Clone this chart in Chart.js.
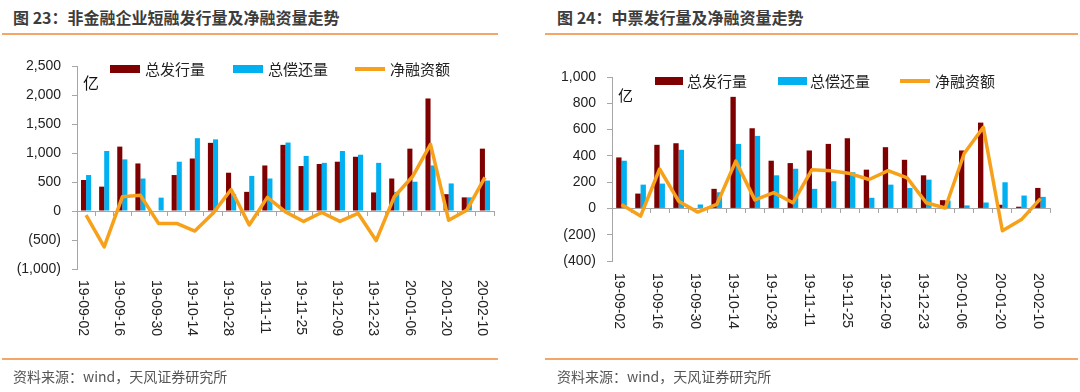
<!DOCTYPE html>
<html>
<head>
<meta charset="utf-8">
<script src="https://cdn.jsdelivr.net/npm/chart.js@4.4.0/dist/chart.umd.min.js"></script>
<style>
  body { margin: 0; background: #fff; width: 1080px; height: 392px; overflow: hidden; position: relative; font-family: "Noto Sans CJK SC", sans-serif; }
  .title { position: absolute; top: 9px; font-size: 16px; line-height: 17px; font-weight: bold; color: #3c3c3c; white-space: nowrap; }
  .rule { position: absolute; height: 2px; background: #f3a666; }
  .src { position: absolute; top: 369px; font-size: 14px; line-height: 15px; color: #555; white-space: nowrap; }
  canvas { position: absolute; top: 0; }
  .unit { position: absolute; color: #111; line-height: 1; }
  .sw { position: absolute; }
  .lt { position: absolute; font-size: 15px; line-height: 15px; color: #222; white-space: nowrap; }
</style>
</head>
<body>
<div class="title" style="left:13px">图 23：非金融企业短融发行量及净融资量走势</div>
<div class="rule" style="left:2px;width:496px;top:33px"></div>
<div class="title" style="left:557px">图 24：中票发行量及净融资量走势</div>
<div class="rule" style="left:545px;width:533px;top:33px"></div>

<canvas id="c1" width="540" height="392" style="left:0"></canvas>
<canvas id="c2" width="540" height="392" style="left:540px"></canvas>

<div class="unit" style="left:83px;top:74px;font-size:16px">亿</div>
<div class="unit" style="left:618px;top:87px;font-size:15px">亿</div>

<!-- legend, left -->
<div class="sw" style="left:110px;top:65px;width:30px;height:8px;background:#7f0000"></div>
<div class="lt" style="left:145px;top:61px">总发行量</div>
<div class="sw" style="left:233px;top:65px;width:30px;height:8px;background:#00b0f0"></div>
<div class="lt" style="left:268px;top:61px">总偿还量</div>
<div class="sw" style="left:355px;top:67px;width:30px;height:4px;background:#f7a11a"></div>
<div class="lt" style="left:390px;top:61px">净融资额</div>

<!-- legend, right -->
<div class="sw" style="left:655px;top:77px;width:28px;height:8px;background:#7f0000"></div>
<div class="lt" style="left:687px;top:73px">总发行量</div>
<div class="sw" style="left:778px;top:77px;width:29px;height:8px;background:#00b0f0"></div>
<div class="lt" style="left:810px;top:73px">总偿还量</div>
<div class="sw" style="left:900px;top:79px;width:30px;height:4px;background:#f7a11a"></div>
<div class="lt" style="left:935px;top:73px">净融资额</div>

<div class="rule" style="left:2px;width:496px;top:358px"></div>
<div class="src" style="left:13px">资料来源：wind，天风证券研究所</div>
<div class="rule" style="left:545px;width:533px;top:358px"></div>
<div class="src" style="left:557px">资料来源：wind，天风证券研究所</div>

<script>
// weekly dates (every second one is labelled)
const dates = ["19-09-02", "19-09-09", "19-09-16", "19-09-23", "19-09-30", "19-10-07", "19-10-14", "19-10-21",
  "19-10-28", "19-11-04", "19-11-11", "19-11-18", "19-11-25", "19-12-02", "19-12-09", "19-12-16",
  "19-12-23", "19-12-30", "20-01-06", "20-01-13", "20-01-20", "20-02-03", "20-02-10"];

// 图23 短融 (亿)
const cpIssue = [535, 420, 1110, 820, 0, 620, 905, 1175, 660, 330, 785, 1140, 775, 810, 850, 935, 320, 560, 1075, 1940, 290, 235, 1075];
const cpRepay = [620, 1035, 890, 560, 230, 850, 1255, 1235, 290, 605, 560, 1180, 950, 830, 1035, 970, 830, 330, 505, 785, 475, 235, 525];
const cpNet = [-70, -620, 245, 270, -215, -215, -345, -40, 370, -240, 235, -15, -180, -25, -180, -40, -510, 245, 590, 1150, -160, 15, 580];
const cpTicks = [-1000, -500, 0, 500, 1000, 1500, 2000, 2500];

// 图24 中票 (亿)
const mtnIssue = [388, 113, 484, 496, 0, 149, 849, 610, 363, 345, 441, 491, 534, 295, 466, 370, 252, 63, 441, 653, 28, 13, 156];
const mtnRepay = [363, 181, 189, 446, 30, 123, 491, 552, 252, 302, 149, 207, 275, 81, 181, 156, 219, 60, 23, 45, 199, 98, 88];
const mtnNet = [30, -58, 300, 55, -28, 30, 360, 65, 120, 43, 295, 287, 265, 220, 287, 232, 43, 3, 420, 617, -170, -85, 75];
const mtnTicks = [-400, -200, 0, 200, 400, 600, 800, 1000];

const numFont = '"Liberation Sans", Arial, sans-serif';
const axisGray = "#a6a6a6";

function fmt(v) {
  let s = Math.abs(v).toLocaleString("en-US");
  return v < 0 ? "(" + s + ")" : s;
}

// x labels read top-to-bottom, drawn at the category positions
const rotLabels = {
  id: "rotLabels",
  afterDraw(chart, args, opts) {
    let x = chart.scales.x, ctx = chart.ctx;
    ctx.save();
    ctx.font = "14px " + numFont;
    ctx.fillStyle = "#222";
    ctx.textAlign = "left";
    ctx.textBaseline = "middle";
    chart.data.labels.forEach((lab, i) => {
      if (i % 2) return;
      ctx.save();
      ctx.translate(x.getPixelForValue(i) - 3, opts.top);
      ctx.rotate(Math.PI / 2);
      ctx.fillText(lab, 0, 0);
      ctx.restore();
    });
    ctx.restore();
  }
};

function makeChart(id, issue, repay, net, ticks, box) {
  return new Chart(document.getElementById(id), {
    type: "bar",
    data: {
      labels: dates,
      datasets: [
        { type: "line", label: "净融资额", data: net, borderColor: "#f7a11a", borderWidth: 3.5,
          pointRadius: 0, tension: 0, borderJoinStyle: "round", order: 0 },
        { label: "总发行量", data: issue, backgroundColor: "#7f0000", order: 1,
          categoryPercentage: 0.56, barPercentage: 1 },
        { label: "总偿还量", data: repay, backgroundColor: "#00b0f0", order: 1,
          categoryPercentage: 0.56, barPercentage: 1 }
      ]
    },
    options: {
      responsive: false,
      animation: false,
      layout: { padding: { left: 0, top: box.top, right: box.right, bottom: box.bottom } },
      plugins: { legend: { display: false }, tooltip: { enabled: false }, rotLabels: { top: box.labelTop } },
      scales: {
        x: {
          position: { y: 0 },
          grid: { drawOnChartArea: false, offset: true, tickLength: 4, color: axisGray },
          border: { color: axisGray },
          ticks: { display: false }
        },
        y: {
          min: ticks[0], max: ticks[ticks.length - 1],
          afterFit(s) { s.width = box.left; },
          afterBuildTicks(s) { s.ticks = ticks.map(v => ({ value: v })); },
          grid: { drawOnChartArea: false, tickLength: 5, color: axisGray },
          border: { color: axisGray },
          ticks: { padding: 11, color: "#222", font: { size: 14, family: numFont }, callback: v => fmt(v) }
        }
      }
    },
    plugins: [rotLabels]
  });
}

makeChart("c1", cpIssue, cpRepay, cpNet, cpTicks, { left: 77, top: 66, right: 46, bottom: 123, labelTop: 280 });
makeChart("c2", mtnIssue, mtnRepay, mtnNet, mtnTicks, { left: 72, top: 77, right: 30, bottom: 131, labelTop: 273 });
</script>
</body>
</html>
